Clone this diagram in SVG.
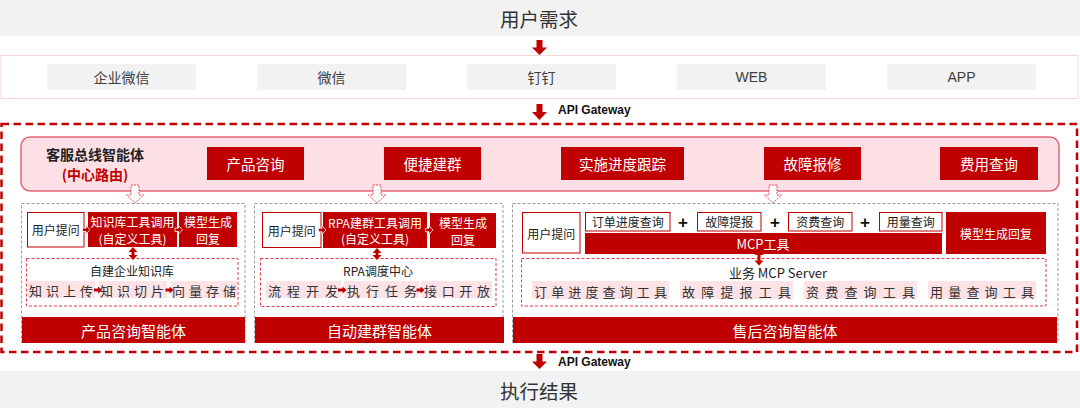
<svg xmlns="http://www.w3.org/2000/svg" width="1080" height="408" viewBox="0 0 1080 408">
<style>
text{font-family:"Liberation Sans","Noto Sans CJK SC",sans-serif;dominant-baseline:central;text-anchor:middle}
.cj{font-family:"Noto Sans CJK SC","Liberation Sans",sans-serif}
.big{font-size:19.5px;fill:#333}
.ch{font-size:14px;fill:#404040}
.gw{font-size:12px;font-weight:bold;fill:#111;text-anchor:start;font-family:"Liberation Sans",sans-serif}
.w{fill:#fff}
.k{fill:#222}
.f12{font-size:12px}
.f13{font-size:13px}
.f145{font-size:14.5px}
.bar{fill:#c00000}
.gray{fill:#f2f2f2}
.wb{fill:#fff;stroke:#c00000;stroke-width:1}
.strip{fill:#fde2e6}
.st{font-size:13px;fill:#333;text-anchor:start}
.pnl{fill:none;stroke:#9a9a9a;stroke-width:1;stroke-dasharray:3 2}
.inner{fill:none;stroke:#dc3c44;stroke-width:1;stroke-dasharray:3 2}
.arr{fill:#c00000}
.sa{fill:#c00000;stroke:#fff;stroke-width:0.8}
.hol{fill:#fff;stroke:#e0505c;stroke-width:1;stroke-dasharray:2 1}
.plus{font-size:17px;font-weight:bold;fill:#111}
</style>

<g id="user-need">
<rect class="gray" x="0" y="0" width="1080" height="36"/>
<text class="big cj" x="539" y="18">用户需求</text>
</g>

<g id="channels">
<rect x="1" y="55.5" width="1077" height="43" fill="#fff" stroke="#fbd3d9" stroke-width="1"/>
<g id="ch-qywx"><rect class="gray" x="47" y="64" width="149" height="26"/><text class="ch cj" x="121.5" y="77">企业微信</text></g>
<g id="ch-wx"><rect class="gray" x="257" y="64" width="149" height="26"/><text class="ch cj" x="331.5" y="77">微信</text></g>
<g id="ch-dd"><rect class="gray" x="467" y="64" width="149" height="26"/><text class="ch cj" x="541.5" y="77">钉钉</text></g>
<g id="ch-web"><rect class="gray" x="677" y="64" width="149" height="26"/><text class="ch" x="751.5" y="77">WEB</text></g>
<g id="ch-app"><rect class="gray" x="887" y="64" width="149" height="26"/><text class="ch" x="961.5" y="77">APP</text></g>
</g>

<g id="outer-frame">
<rect x="1.5" y="124" width="1075.5" height="228" fill="none" stroke="#c00000" stroke-width="2.5" stroke-dasharray="7.5 4.5"/>
</g>

<g id="router">
<rect x="21" y="137" width="1038" height="54" rx="9" fill="#fde0e5" stroke="#e06a78" stroke-width="1.5"/>
<text class="cj" x="95" y="154" font-size="14" font-weight="bold" fill="#222">客服总线智能体</text>
<text class="cj" x="95" y="174" font-size="14" font-weight="bold" fill="#c00000">(中心路由)</text>
<g id="r1"><rect class="bar" x="207" y="147" width="97" height="33"/><text class="w f145 cj" x="255.5" y="163.5">产品咨询</text></g>
<g id="r2"><rect class="bar" x="384" y="147" width="97" height="33"/><text class="w f145 cj" x="432.5" y="163.5">便捷建群</text></g>
<g id="r3"><rect class="bar" x="561" y="147" width="123" height="33"/><text class="w f145 cj" x="622.5" y="163.5">实施进度跟踪</text></g>
<g id="r4"><rect class="bar" x="764" y="147" width="97" height="33"/><text class="w f145 cj" x="812.5" y="163.5">故障报修</text></g>
<g id="r5"><rect class="bar" x="940" y="147" width="98" height="33"/><text class="w f145 cj" x="989" y="163.5">费用查询</text></g>
</g>

<g id="panel-product">
<rect class="pnl" x="21.5" y="203.5" width="223.5" height="139"/>
<g id="p1-ask"><rect class="wb" x="27.5" y="212.5" width="56.5" height="34.5"/><text class="k f12 cj" x="55.8" y="229.5">用户提问</text></g>
<g id="p1-tool"><rect class="bar" x="88" y="212" width="89" height="35"/><text class="w f12 cj" x="132.5" y="221.5">知识库工具调用</text><text class="w f12 cj" x="132.5" y="238">(自定义工具)</text></g>
<g id="p1-model"><rect class="bar" x="179" y="212" width="58" height="35"/><text class="w f12 cj" x="208" y="221.5">模型生成</text><text class="w f12 cj" x="208" y="238">回复</text></g>
<g id="p1-kb">
<rect class="inner" x="26.5" y="258.5" width="211.5" height="47.5"/>
<text class="k f12 cj" x="132" y="270">自建企业知识库</text>
<rect class="strip" x="28" y="281" width="67" height="17"/><text class="st cj" x="29" y="290.5" textLength="64" lengthAdjust="spacing">知识上传</text>
<rect class="strip" x="99" y="281" width="68" height="17"/><text class="st cj" x="100" y="290.5" textLength="64" lengthAdjust="spacing">知识切片</text>
<rect class="strip" x="171" y="281" width="66" height="17"/><text class="st cj" x="172" y="290.5" textLength="64" lengthAdjust="spacing">向量存储</text>
</g>
<g id="p1-name"><rect class="bar" x="22" y="317" width="223" height="26"/><text class="w cj" x="133.5" y="330" font-size="15">产品咨询智能体</text></g>
</g>

<g id="panel-group">
<rect class="pnl" x="254.5" y="203.5" width="248.5" height="139"/>
<g id="p2-ask"><rect class="wb" x="262.5" y="212.5" width="58.5" height="35"/><text class="k f12 cj" x="291.8" y="230">用户提问</text></g>
<g id="p2-tool"><rect class="bar" x="323" y="212" width="104" height="36"/><text class="w f12 cj" x="375" y="222">RPA建群工具调用</text><text class="w f12 cj" x="375" y="238.5">(自定义工具)</text></g>
<g id="p2-model"><rect class="bar" x="430" y="213" width="66" height="35"/><text class="w f12 cj" x="463" y="222">模型生成</text><text class="w f12 cj" x="463" y="239.5">回复</text></g>
<g id="p2-rpa">
<rect class="inner" x="260.5" y="258.5" width="235.5" height="48"/>
<text class="k f12 cj" x="378" y="270">RPA调度中心</text>
<rect class="strip" x="266" y="281" width="75" height="17"/><text class="st cj" x="268" y="290.5" textLength="70" lengthAdjust="spacing">流程开发</text>
<rect class="strip" x="344" y="281" width="75" height="17"/><text class="st cj" x="347" y="290.5" textLength="70" lengthAdjust="spacing">执行任务</text>
<rect class="strip" x="422" y="281" width="70" height="17"/><text class="st cj" x="424" y="290.5" textLength="66" lengthAdjust="spacing">接口开放</text>
</g>
<g id="p2-name"><rect class="bar" x="255" y="317" width="249" height="26"/><text class="w cj" x="379.5" y="330" font-size="15">自动建群智能体</text></g>
</g>

<g id="panel-aftersales">
<rect class="pnl" x="512.5" y="203.5" width="545.5" height="139"/>
<g id="p3-ask"><rect class="wb" x="522.5" y="212.5" width="57.5" height="40.5"/><text class="k f12 cj" x="551.3" y="233">用户提问</text></g>
<g id="p3-t1"><rect class="wb" x="585.5" y="212.5" width="84.5" height="18.5"/><text class="k f12 cj" x="627.8" y="221.8">订单进度查询</text></g>
<text class="plus" x="683" y="222">+</text>
<g id="p3-t2"><rect class="wb" x="697.5" y="212.5" width="63.5" height="18.5"/><text class="k f12 cj" x="729.3" y="221.8">故障提报</text></g>
<text class="plus" x="775" y="222">+</text>
<g id="p3-t3"><rect class="wb" x="788.5" y="212.5" width="63.5" height="18.5"/><text class="k f12 cj" x="820.3" y="221.8">资费查询</text></g>
<text class="plus" x="865" y="222">+</text>
<g id="p3-t4"><rect class="wb" x="879.5" y="212.5" width="62.5" height="18.5"/><text class="k f12 cj" x="910.8" y="221.8">用量查询</text></g>
<g id="p3-mcp"><rect class="bar" x="585" y="233" width="357" height="21"/><text class="w f13 cj" x="763" y="243.5">MCP工具</text></g>
<g id="p3-model"><rect class="bar" x="946" y="212" width="100" height="42"/><text class="w f12 cj" x="996" y="233">模型生成回复</text></g>
<g id="p3-server">
<rect class="inner" x="521.5" y="258.5" width="524.5" height="47.5"/>
<text class="k f13 cj" x="778" y="272.5">业务 MCP Server</text>
<rect class="strip" x="532" y="281" width="137" height="18"/><text class="st cj" x="534" y="291" textLength="133" lengthAdjust="spacing">订单进度查询工具</text>
<rect class="strip" x="680" y="281" width="113" height="18"/><text class="st cj" x="682" y="291" textLength="109" lengthAdjust="spacing">故障提报工具</text>
<rect class="strip" x="804" y="281" width="113" height="18"/><text class="st cj" x="806" y="291" textLength="109" lengthAdjust="spacing">资费查询工具</text>
<rect class="strip" x="928" y="281" width="108" height="18"/><text class="st cj" x="930" y="291" textLength="104" lengthAdjust="spacing">用量查询工具</text>
</g>
<g id="p3-name"><rect class="bar" x="513" y="317" width="544" height="26"/><text class="w cj" x="785" y="330" font-size="15">售后咨询智能体</text></g>
</g>

<g id="result">
<rect class="gray" x="0" y="371" width="1080" height="37"/>
<text class="big cj" x="539" y="390">执行结果</text>
</g>

<g id="connectors">
<polygon class="arr" points="536.5,40 542.5,40 542.5,47.5 547,47.5 539.5,55 532,47.5 536.5,47.5"/>
<polygon class="arr" points="536.5,104 542.5,104 542.5,112 547,112 539.5,120 532,112 536.5,112"/>
<text class="gw" x="558" y="110">API Gateway</text>
<polygon class="arr" points="536.5,354 542.5,354 542.5,361.5 547,361.5 539.5,369 532,361.5 536.5,361.5"/>
<text class="gw" x="558" y="362">API Gateway</text>

<polygon class="hol" points="131,185 139,185 139,195 143.5,195 135,203 126.5,195 131,195"/>
<polygon class="hol" points="373,185 381,185 381,195 385.5,195 377,203 368.5,195 373,195"/>
<polygon class="hol" points="769,185 777,185 777,195 781.5,195 773,203 764.5,195 769,195"/>

<polygon class="sa" points="82.5,228 86,228 86,225.5 90,229.8 86,234 86,231.5 82.5,231.5"/>
<polygon class="sa" points="175,228 178.5,228 178.5,225.5 182.5,229.8 178.5,234 178.5,231.5 175,231.5"/>
<polygon class="sa" points="318.5,228.2 322,228.2 322,225.7 326,230 322,234.3 322,231.8 318.5,231.8"/>
<polygon class="sa" points="425.5,228.2 429,228.2 429,225.7 433,230 429,234.3 429,231.8 425.5,231.8"/>

<polygon class="arr" points="133,247 137.5,252 134.5,252 134.5,255 137.5,255 133,260 128.5,255 131.5,255 131.5,252 128.5,252"/>
<polygon class="arr" points="377,248 381.5,253 378.5,253 378.5,255 381.5,255 377,260 372.5,255 375.5,255 375.5,253 372.5,253"/>
<polygon class="arr" points="759,250 763.5,255 760.5,255 760.5,260.5 763.5,260.5 759,265.5 754.5,260.5 757.5,260.5 757.5,255 754.5,255"/>

<polygon class="arr" points="94,288.5 98,288.5 98,286.5 102,290 98,293.5 98,291.5 94,291.5"/>
<polygon class="arr" points="165.5,288.5 169.5,288.5 169.5,286.5 173.5,290 169.5,293.5 169.5,291.5 165.5,291.5"/>
<polygon class="arr" points="338,288.5 342.5,288.5 342.5,286.5 346.5,290 342.5,293.5 342.5,291.5 338,291.5"/>
<polygon class="arr" points="416.5,288.5 420.5,288.5 420.5,286.5 424.5,290 420.5,293.5 420.5,291.5 416.5,291.5"/>
</g>
</svg>
